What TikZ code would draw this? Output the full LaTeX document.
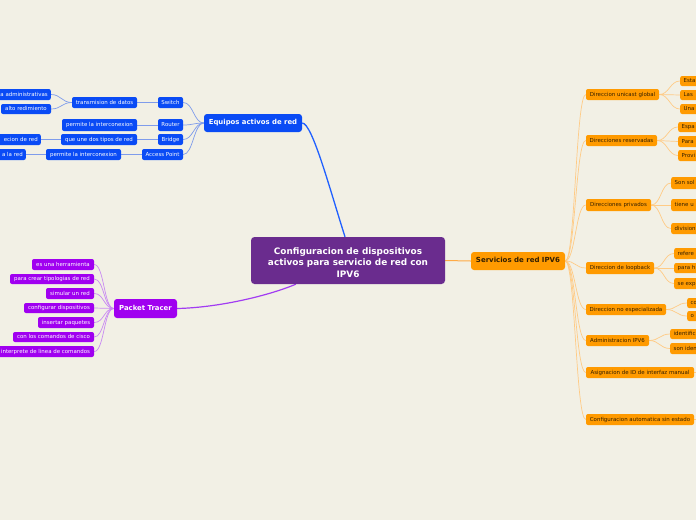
\documentclass[tikz,border=0pt]{standalone}
\usepackage{fontspec}
\setmainfont{DejaVu Sans}
\usetikzlibrary{backgrounds}
\definecolor{cbg}{HTML}{F2F0E5}
\definecolor{ccenter}{HTML}{6A2C8E}
\definecolor{cblue}{HTML}{0A4BF5}
\definecolor{cviol}{HTML}{A000F0}
\definecolor{corange}{HTML}{FF9A00}
\definecolor{cdark}{HTML}{331F00}
\definecolor{cbluel}{HTML}{7F9CEB}
\definecolor{cviell}{HTML}{C98AF2}
\definecolor{corl}{HTML}{FFCB85}
\definecolor{cbluem}{HTML}{2060FF}
\definecolor{cviom}{HTML}{A23CF2}
\definecolor{corm}{HTML}{FFAA45}
\newcommand\boxnode[7]{%
  \pgfmathsetmacro\bxc{(#3+#4)/2}%
  \pgfmathsetmacro\byc{(#5+#6)/2}%
  \pgfmathsetmacro\bxw{#4-#3}%
  \pgfmathsetmacro\bxh{#6-#5}%
  \node[#1, minimum width=\bxw pt, minimum height=\bxh pt] (#2) at (\bxc,\byc) {#7};%
}
\newcommand\rnode[6]{%
  \pgfmathsetmacro\byc{(#4+#5)/2}%
  \pgfmathsetmacro\bxh{#5-#4}%
  \node[#1, anchor=west, minimum height=\bxh pt, text width=40pt, inner xsep=3.5pt, align=left] (#2) at (#3,\byc) {#6};%
}
\newcommand\lnode[6]{%
  \pgfmathsetmacro\byc{(#4+#5)/2}%
  \pgfmathsetmacro\bxh{#5-#4}%
  \node[#1, anchor=east, minimum height=\bxh pt, text width=50pt, inner xsep=3pt, align=right] (#2) at (#3,\byc) {#6};%
}
\tikzset{
  small/.style={rounded corners=2pt, inner sep=0pt, font=\fontsize{5.45}{6.5}\selectfont, text height=4.1pt, text depth=1.1pt},
  bl/.style={small, fill=cblue, text=white},
  vl/.style={small, fill=cviol, text=white},
  ol/.style={small, fill=corange, text=cdark},
  big/.style={rounded corners=3pt, inner sep=0pt, font=\bfseries\fontsize{6.9}{8}\selectfont, text height=5.2pt, text depth=1.4pt},
  centerbox/.style={rounded corners=3.5pt, inner sep=0pt, fill=ccenter, text=white, align=center, font=\bfseries\fontsize{8.9}{11.3}\selectfont},
  blink/.style={draw=cbluel, line width=0.7pt},
  vlink/.style={draw=cviell, line width=0.7pt},
  olink/.style={draw=corl, line width=0.7pt},
}
\begin{document}
\begin{tikzpicture}[x=1pt,y=-1pt]
\useasboundingbox (0,0) rectangle (696,520);
\clip (0,0) rectangle (696,520);

% center
\boxnode{centerbox}{c}{251}{445}{237}{284}{\rule{0pt}{10.8pt}Configuracion de dispositivos\\activos para servicio de red con\\IPV6}

% blue subtree
\boxnode{big, fill=cblue, text=white}{eq}{204}{302}{114}{132}{Equipos activos de red}
\boxnode{bl}{sw}{158}{183}{97}{108}{Switch}
\boxnode{bl}{ro}{158}{183}{119}{131}{Router}
\boxnode{bl}{br}{158}{183}{134}{145}{Bridge}
\boxnode{bl}{ap}{142}{183}{149}{160}{Access Point}
\boxnode{bl}{td}{72}{137}{97}{108}{transmision de datos}
\boxnode{bl}{pa}{62}{137}{119}{131}{permite la interconexion}
\boxnode{bl}{qu}{61}{137}{134}{145}{que une dos tipos de red}
\boxnode{bl}{pb}{46}{121}{149}{160}{permite la interconexion}
\lnode{bl}{la}{51}{89}{100}{a administrativas}
\boxnode{bl}{lb}{1}{51}{104}{114}{alto redimiento}
\lnode{bl}{lc}{41}{134}{145}{ecion de red}
\lnode{bl}{ld}{26}{149}{160}{a la red}

% violet subtree
\boxnode{big, fill=cviol, text=white}{pt}{114}{177}{299}{318}{Packet Tracer}
\boxnode{vl}{p1}{32}{94}{259}{270}{es una herramienta}
\boxnode{vl}{p2}{10}{94}{274}{284}{para crear tipologias de red}
\boxnode{vl}{p3}{46}{94}{288}{299}{simular un red}
\boxnode{vl}{p4}{24}{94}{303}{313}{configurar dispositivos}
\boxnode{vl}{p5}{38}{94}{317}{328}{insertar paquetes}
\boxnode{vl}{p6}{13}{94}{332}{342}{con los comandos de cisco}
\boxnode{vl}{p7}{-3}{94}{346}{357}{interprete de linea de comandos}

% orange subtree
\boxnode{big, fill=corange, text=cdark, font=\bfseries\fontsize{7}{8}\selectfont}{sv}{471}{565}{252}{270}{Servicios de red IPV6}
\boxnode{ol}{o1}{586}{659}{89}{100}{Direccion unicast global}
\boxnode{ol}{o2}{586}{657}{135}{146}{Direcciones reservadas}
\boxnode{ol}{o3}{586}{651}{199}{211}{Direcciones privados}
\boxnode{ol}{o4}{586}{654}{262}{274}{Direccion de loopback}
\boxnode{ol}{o5}{586}{666}{304}{315}{Direccion no especializada}
\boxnode{ol}{o6}{586}{649}{335}{346}{Administracion IPV6}
\boxnode{ol}{o7}{586}{694}{367}{378}{Asignacion de ID de interfaz manual}
\boxnode{ol}{o8}{586}{694}{414}{425}{Configuracion automatica sin estado}
\rnode{ol}{r1a}{680}{76}{86}{Esta}
\rnode{ol}{r1b}{680}{90}{100}{Las}
\rnode{ol}{r1c}{680}{104}{114}{Una}
\rnode{ol}{r2a}{678}{122}{132}{Espa}
\rnode{ol}{r2b}{678}{136}{147}{Para}
\rnode{ol}{r2c}{678}{150}{161}{Provi}
\rnode{ol}{r3a}{671}{177}{189}{Son sol}
\rnode{ol}{r3b}{671}{199}{211}{tiene u}
\rnode{ol}{r3c}{671}{223}{234}{division}
\rnode{ol}{r4a}{674}{248}{259}{refere}
\rnode{ol}{r4b}{674}{263}{273}{para h}
\rnode{ol}{r4c}{674}{278}{289}{se exp}
\rnode{ol}{r5a}{687}{298}{308}{co}
\rnode{ol}{r5b}{687}{311}{321}{o}
\rnode{ol}{r6a}{670}{329}{339}{identific}
\rnode{ol}{r6b}{670}{343}{354}{son iden}
\coordinate (t7) at (710,372.5);
\coordinate (t8) at (710,419.5);

\begin{scope}[on background layer]
\fill[cbg] (0,0) rectangle (696,520);
% main connectors
\draw[cbluem, line width=1.3pt] (eq.east) .. controls +(10,0) and +(-15,-47) .. ([xshift=-3pt]c.north);
\draw[cviom, line width=1.2pt] (pt.east) .. controls +(43,-1) and +(-26,11) .. ([xshift=45pt]c.south west);
\draw[corm, line width=1pt] (c.east) -- (sv.west);
% blue
\foreach \a/\b in {eq/sw,eq/ro,eq/br,eq/ap,sw/td,ro/pa,br/qu,ap/pb,td/la,td/lb,qu/lc,pb/ld}
  \draw[blink] (\a.west) .. controls +(-10,0) and +(10,0) .. (\b.east);
% violet
\foreach \b in {p1,p2,p3,p4,p5,p6,p7}
  \draw[vlink] (pt.west) .. controls +(-10,0) and +(10,0) .. (\b.east);
% orange
\foreach \a/\b in {sv/o1,sv/o2,sv/o3,sv/o4,sv/o5,sv/o6,sv/o7,sv/o8,
  o1/r1a,o1/r1b,o1/r1c,o2/r2a,o2/r2b,o2/r2c,o3/r3a,o3/r3b,o3/r3c,
  o4/r4a,o4/r4b,o4/r4c,o5/r5a,o5/r5b,o6/r6a,o6/r6b}
  \draw[olink] (\a.east) .. controls +(10,0) and +(-10,0) .. (\b.west);
\draw[olink] (o7.east) -- (t7);
\draw[olink] (o8.east) -- (t8);
\end{scope}
\end{tikzpicture}
\end{document}
